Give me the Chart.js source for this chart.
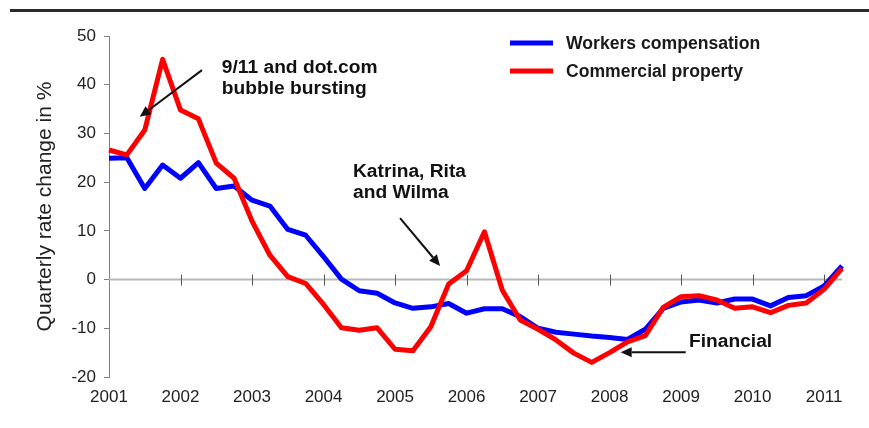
<!DOCTYPE html>
<html><head><meta charset="utf-8">
<script src="https://cdn.jsdelivr.net/npm/chart.js@4.4.0/dist/chart.umd.min.js"></script>
<style>
html,body{margin:0;padding:0;background:#fff;}
#wrap{position:relative;width:869px;height:428px;overflow:hidden;}
#rule{position:absolute;left:10px;right:0;top:9px;height:3px;background:#2a2a2a;}
canvas{position:absolute;left:0;top:0;}
</style></head><body>
<div id="wrap"><canvas id="c" width="869" height="428"></canvas><div id="rule"></div></div>
<script>
const quarters = [
 '2001Q1','2001Q2','2001Q3','2001Q4','2002Q1','2002Q2','2002Q3','2002Q4',
 '2003Q1','2003Q2','2003Q3','2003Q4','2004Q1','2004Q2','2004Q3','2004Q4',
 '2005Q1','2005Q2','2005Q3','2005Q4','2006Q1','2006Q2','2006Q3','2006Q4',
 '2007Q1','2007Q2','2007Q3','2007Q4','2008Q1','2008Q2','2008Q3','2008Q4',
 '2009Q1','2009Q2','2009Q3','2009Q4','2010Q1','2010Q2','2010Q3','2010Q4',
 '2011Q1','2011Q2'];
const workersComp = [
 24.9, 25.0, 18.7, 23.5, 20.8, 24.0, 18.7, 19.2,
 16.3, 15.1, 10.3, 9.1, 4.7, 0.1, -2.3, -2.8,
 -4.8, -5.9, -5.6, -4.9, -6.9, -6.0, -6.0, -7.6,
 -10.0, -10.8, -11.2, -11.6, -11.9, -12.3, -10.2, -5.9,
 -4.6, -4.2, -4.8, -4.0, -4.0, -5.4, -3.7, -3.3,
 -1.3, 2.8];
const commercialProperty = [
 26.6, 25.6, 30.7, 45.2, 34.8, 33.0, 23.9, 20.8,
 12.0, 5.0, 0.6, -0.8, -5.1, -9.9, -10.4, -9.9,
 -14.3, -14.6, -9.7, -0.9, 1.8, 9.8, -2.2, -8.3,
 -10.2, -12.4, -15.1, -17.0, -15.0, -12.8, -11.5, -5.7,
 -3.5, -3.3, -4.2, -5.9, -5.6, -6.8, -5.3, -4.8,
 -2.0, 2.3];
const seriesNames = ['Workers compensation', 'Commercial property'];
const seriesColors = ['#0000ff', '#ff0000'];
const yMin = -20, yMax = 50, yStep = 10;
const notes = [
 {lines:['9/11 and dot.com','bubble bursting'], at:[2002.578, 43.4], from:[2002.30, 43.0], to:[2001.43, 33.4]},
 {lines:['Katrina, Rita','and Wilma'], at:[2004.412, 22.1], from:[2005.07, 12.6], to:[2005.63, 2.8]},
 {lines:['Financial'], at:[2009.111, -12.8], from:[2009.065, -14.9], to:[2008.155, -14.9]}
];
const FONT = "'Liberation Sans', Arial, sans-serif";

const yearIdx = yr => (yr - 2001) * 4;

const zeroLinePlugin = {
  id: 'zeroLine',
  beforeDatasetsDraw(chart) {
    const {ctx, chartArea, scales: {x, y}} = chart;
    const y0 = y.getPixelForValue(0);
    ctx.save();
    ctx.strokeStyle = '#b8b8b8'; ctx.lineWidth = 2;
    ctx.beginPath(); ctx.moveTo(chartArea.left, y0); ctx.lineTo(chartArea.right, y0); ctx.stroke();
    ctx.strokeStyle = '#555'; ctx.lineWidth = 1;
    quarters.forEach((q, i) => {
      if (i > 0 && q.endsWith('Q1')) {
        const px = Math.round(x.getPixelForValue(i)) + 0.5;
        ctx.beginPath(); ctx.moveTo(px, y0 - 5); ctx.lineTo(px, y0 + 6); ctx.stroke();
      }
    });
    ctx.restore();
  }
};

const legendPlugin = {
  id: 'customLegend',
  afterDatasetsDraw(chart) {
    const {ctx, chartArea} = chart;
    ctx.save();
    chart.data.datasets.forEach((ds, i) => {
      const yy = chartArea.top + 7 + i * 28;
      const x0 = chartArea.left + 401;
      ctx.strokeStyle = ds.borderColor; ctx.lineWidth = 5; ctx.lineCap = 'butt';
      ctx.beginPath(); ctx.moveTo(x0, yy); ctx.lineTo(x0 + 43, yy); ctx.stroke();
      ctx.fillStyle = '#1a1a1a';
      ctx.font = 'bold 17.6px ' + FONT;
      ctx.textBaseline = 'middle'; ctx.textAlign = 'left';
      ctx.fillText(ds.label, x0 + 56, yy + 1);
    });
    ctx.restore();
  }
};

function arrow(ctx, x1, y1, x2, y2) {
  const ang = Math.atan2(y2 - y1, x2 - x1);
  const hl = 11, hw = 5;
  const bx = x2 - hl * Math.cos(ang), by = y2 - hl * Math.sin(ang);
  ctx.beginPath(); ctx.moveTo(x1, y1); ctx.lineTo(bx, by); ctx.stroke();
  ctx.beginPath();
  ctx.moveTo(x2, y2);
  ctx.lineTo(bx + hw * Math.sin(ang), by - hw * Math.cos(ang));
  ctx.lineTo(bx - hw * Math.sin(ang), by + hw * Math.cos(ang));
  ctx.closePath(); ctx.fill();
}

const notesPlugin = {
  id: 'notes',
  afterDatasetsDraw(chart) {
    const {ctx, scales: {x, y}} = chart;
    ctx.save();
    ctx.fillStyle = '#111'; ctx.strokeStyle = '#111'; ctx.lineWidth = 2;
    ctx.font = 'bold 19.2px ' + FONT;
    ctx.textBaseline = 'middle'; ctx.textAlign = 'left';
    notes.forEach(n => {
      const tx = x.getPixelForValue(yearIdx(n.at[0]));
      const ty = y.getPixelForValue(n.at[1]);
      n.lines.forEach((l, k) => ctx.fillText(l, tx, ty + k * 21));
      arrow(ctx, x.getPixelForValue(yearIdx(n.from[0])), y.getPixelForValue(n.from[1]),
                 x.getPixelForValue(yearIdx(n.to[0])), y.getPixelForValue(n.to[1]));
    });
    ctx.restore();
  }
};

new Chart(document.getElementById('c'), {
  type: 'line',
  data: {
    labels: quarters,
    datasets: [
      {label: seriesNames[0], data: workersComp, borderColor: seriesColors[0], backgroundColor: seriesColors[0], order: 2},
      {label: seriesNames[1], data: commercialProperty, borderColor: seriesColors[1], backgroundColor: seriesColors[1], order: 1}
    ]
  },
  options: {
    responsive: false, animation: false, devicePixelRatio: 1,
    layout: {padding: {top: 36, right: 27, left: 0, bottom: 0}},
    plugins: {legend: {display: false}, tooltip: {enabled: false}},
    elements: {
      point: {radius: 0, hoverRadius: 0},
      line: {tension: 0, borderWidth: 5, borderJoinStyle: 'round', borderCapStyle: 'butt', fill: false}
    },
    scales: {
      x: {
        type: 'category', offset: false,
        grid: {display: false, drawTicks: false},
        border: {display: false},
        ticks: {
          autoSkip: false, maxRotation: 0, minRotation: 0, padding: 10, color: '#222',
          font: {family: FONT, size: 17},
          callback(v, i) { const q = quarters[i]; return q.endsWith('Q1') ? q.slice(0, 4) : ''; }
        },
        afterFit(s) { s.height = 51; }
      },
      y: {
        min: yMin, max: yMax,
        ticks: {stepSize: yStep, padding: 8, color: '#222', font: {family: FONT, size: 17}},
        grid: {drawOnChartArea: false, drawTicks: true, tickLength: 5, color: '#808080'},
        border: {display: true, color: '#808080', width: 1},
        title: {display: true, text: 'Quarterly rate change in %', color: '#222',
                font: {family: FONT, size: 21}, padding: {top: 33, bottom: 0}},
        afterFit(s) { s.width = 109; }
      }
    }
  },
  plugins: [zeroLinePlugin, legendPlugin, notesPlugin]
});
</script>
</body></html>
